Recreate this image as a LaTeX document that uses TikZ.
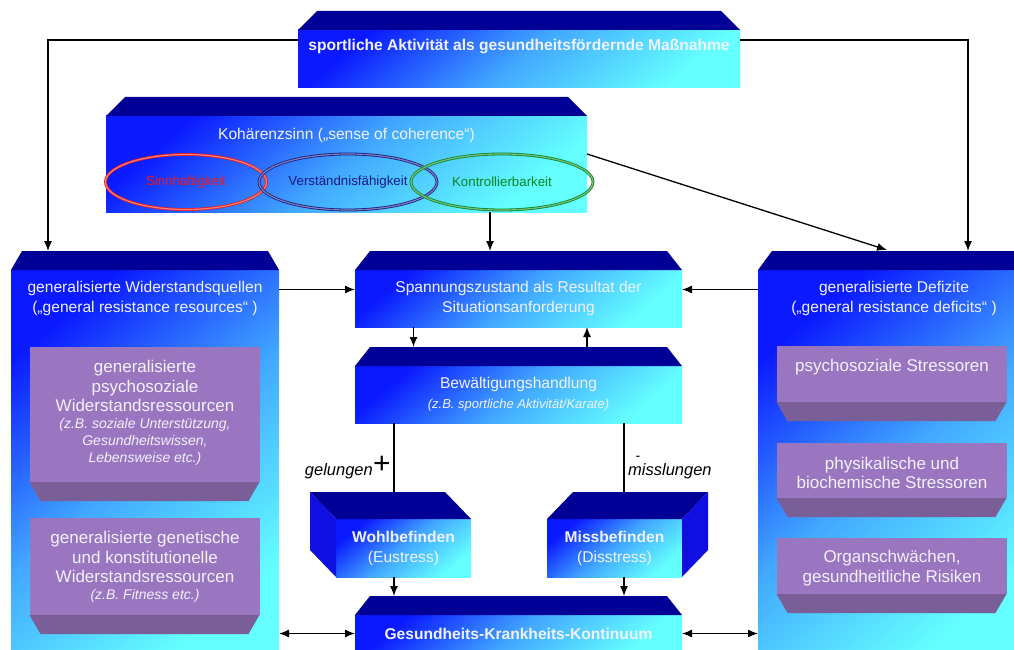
\documentclass[tikz,border=0pt]{standalone}
\usepackage{fontspec}
\setmainfont{Liberation Sans}
\usetikzlibrary{shapes.geometric, arrows.meta, calc, positioning}

\definecolor{boxblue}{RGB}{10,25,255}
\definecolor{boxcyan}{RGB}{100,255,255}
\definecolor{topnavy}{RGB}{0,0,150}
\definecolor{sideblue}{RGB}{15,15,225}
\definecolor{lilac}{RGB}{155,118,192}
\definecolor{lilacdark}{RGB}{122,94,152}
\definecolor{txtwhite}{RGB}{242,242,252}
\definecolor{ringred}{RGB}{235,25,25}
\definecolor{ringblue}{RGB}{25,25,130}
\definecolor{ringgreen}{RGB}{10,135,30}

\newcommand{\smallit}{\itshape\fontsize{14}{17.5}\selectfont}

\begin{document}
\begin{tikzpicture}[
    x=1pt, y=-1pt,
    >={Latex[length=10pt,width=8pt]},
    face/.style={inner sep=0pt, outer sep=0pt, left color=boxblue, right color=boxcyan, middle color=boxcyan!62!boxblue, shading angle=40, text=txtwhite, align=center},
    plate/.style={fill=lilac, inner sep=0pt, outer sep=0pt, minimum width=230pt},
    boxtext/.style={text=txtwhite, align=center, inner sep=0pt},
    ring/.style={ellipse, draw=#1, double=#1!55, double distance=1.2pt, line width=0.8pt, inner sep=0pt, text=#1, font=\fontsize{13.3}{16}\selectfont},
    conn/.style={line width=1.3pt},
    font=\fontsize{15.6}{20}\selectfont
]
\useasboundingbox (0,0) rectangle (1014,650);
\clip (0,0) rectangle (1014,650);

% blue boxes
\node[face, minimum width=442pt, minimum height=58pt] (sport) at (519,59) {};
\node[face, minimum width=481pt, minimum height=96pt] (koh) at (346.5,164) {};
\node[face, minimum width=268pt, minimum height=385pt] (wr) at (145,462.5) {};
\node[face, minimum width=272pt, minimum height=385pt] (def) at (894,462.5) {};
\node[face, minimum width=327pt, minimum height=57pt] (spann) at (518.5,298.5) {Spannungszustand als Resultat der\\Situationsanforderung};
\node[face, minimum width=327pt, minimum height=57pt] (bewael) at (518.5,394.5) {Bewältigungshandlung\\\itshape\fontsize{13}{17}\selectfont(z.B. sportliche Aktivität/Karate)};
\node[face, minimum width=327pt, minimum height=37pt, font=\bfseries\fontsize{15.6}{20}\selectfont] (gkk) at (518.5,633.5) {Gesundheits-Krankheits-Kontinuum};
\node[face, minimum width=135pt, minimum height=58pt] (wohl) at (403.5,548) {\textbf{Wohlbefinden}\\(Eustress)};
\node[face, minimum width=135pt, minimum height=58pt] (miss) at (614.5,548) {\textbf{Missbefinden}\\(Disstress)};

% bevels
\foreach \n/\d in {sport/19, koh/19, wr/11, def/14, spann/15, bewael/15, gkk/15} {
  \fill[topnavy] (\n.north west) -- ++(\d,-19) -- ($(\n.north east)+(-\d,-19)$) -- (\n.north east) -- cycle;
  \coordinate (\n-top) at ([yshift=19pt]\n.north);
}
\fill[topnavy] (wohl.north west) -- ++(-26,-27) -- ++(135,0) -- (wohl.north east) -- cycle;
\fill[sideblue] (wohl.north west) -- ++(-26,-27) -- ++(0,58) -- (wohl.south west) -- cycle;
\fill[topnavy] (miss.north west) -- ++(26,-27) -- ++(135,0) -- (miss.north east) -- cycle;
\fill[sideblue] (miss.north east) -- ++(26,-27) -- ++(0,58) -- (miss.south east) -- cycle;

% titles
\node[boxtext, font=\bfseries\fontsize{15.6}{20}\selectfont] (sporttxt) at (519,47) {sportliche Aktivität als gesundheitsfördernde Maßnahme};
\node[boxtext] (kohtxt) at (346.5,135) {Kohärenzsinn („sense of coherence“)};
\node[boxtext] (wrtxt) at (145,298) {generalisierte Widerstandsquellen\\(„general resistance resources“ )};
\node[boxtext] (deftxt) at (894,298) {generalisierte Defizite\\(„general resistance deficits“ )};

% coherence rings
\node[ring=ringred, minimum width=161pt, minimum height=55pt] (sinn) at (186,182) {Sinnhaftigkeit};
\node[ring=ringblue, minimum width=178pt, minimum height=56pt] (verst) at (348,182) {Verständnisfähigkeit};
\node[ring=ringgreen, minimum width=182pt, minimum height=56pt] (kontr) at (502,182) {Kontrollierbarkeit};

% lilac plates
\node[plate, minimum height=135pt] (p1) at (144.5,414.5) {};
\node[plate, minimum height=97pt] (p2) at (144.5,566.5) {};
\node[plate, minimum height=56pt] (q1) at (891.5,374) {};
\node[plate, minimum height=55pt] (q2) at (891.5,470.5) {};
\node[plate, minimum height=56pt] (q3) at (891.5,566) {};
\foreach \n/\d in {p1/11, p2/11, q1/11, q2/11, q3/11}
  \fill[lilacdark] (\n.south west) -- ++(\d,19) -- ($(\n.south east)+(-\d,19)$) -- (\n.south east) -- cycle;

\node[boxtext, font=\fontsize{17}{19.5}\selectfont] (p1txt) at (145,413) {generalisierte\\psychosoziale\\Widerstandsressourcen\\[-2.5pt]\smallit(z.B. soziale Unterstützung,\\[-2.5pt]\smallit Gesundheitswissen,\\[-2.5pt]\smallit Lebensweise etc.)};
\node[boxtext, font=\fontsize{17}{19.5}\selectfont] (p2txt) at (145,567) {generalisierte genetische\\und konstitutionelle\\Widerstandsressourcen\\[-2.5pt]\smallit(z.B. Fitness etc.)};
\node[boxtext, font=\fontsize{17}{19.5}\selectfont] (q1txt) at (892,367) {psychosoziale Stressoren};
\node[boxtext, font=\fontsize{17}{19.5}\selectfont] (q2txt) at (892,473) {physikalische und\\biochemische Stressoren};
\node[boxtext, font=\fontsize{17}{19.5}\selectfont] (q3txt) at (892,568) {Organschwächen,\\gesundheitliche Risiken};

% connectors
\coordinate (wrin) at (48,251);
\coordinate (defin) at (968,251);
\coordinate (defkoh) at (887,250);
\coordinate (spannin) at (490,251);
\coordinate (wohlin) at (394,492);
\coordinate (missin) at (624,492);
\coordinate (sl) at ([yshift=9pt]spann.west);
\coordinate (sr) at ([yshift=9pt]spann.east);

\draw[conn, ->] ([yshift=19pt]sport.west) -| (wrin);
\draw[conn, ->] ([yshift=19pt]sport.east) -| (defin);
\draw[conn, ->] ([yshift=10pt]koh.east) -- (defkoh);
\draw[conn, ->] (koh.south -| spannin) -- (spannin);
\draw[conn, ->] (wr.east |- sl) -- (sl);
\draw[conn, ->] (def.west |- sr) -- (sr);
\draw[conn, ->] ([xshift=-105pt]spann.south) -- ([xshift=-105pt]bewael-top);
\draw[conn, ->] ([xshift=68.5pt]bewael-top) -- ([xshift=68.5pt]spann.south);
\draw[conn] (bewael.south -| wohlin) -- (wohlin);
\draw[conn] (bewael.south -| missin) -- (missin);
\draw[conn, ->] (wohlin |- wohl.south) -- (wohlin |- gkk-top);
\draw[conn, ->] (missin |- miss.south) -- (missin |- gkk-top);
\draw[conn, <->] (wr.east |- gkk) -- (gkk.west);
\draw[conn, <->] (gkk.east) -- (def.west |- gkk);

% outcome labels
\node[font=\itshape\fontsize{16.5}{20}\selectfont, anchor=east, inner sep=0pt] (ok) at (373,471) {gelungen};
\node[font=\fontsize{30}{32}\selectfont, inner sep=0pt] (plus) at (382,465) {+};
\node[font=\itshape\fontsize{16.5}{20}\selectfont, anchor=west, inner sep=0pt] (fail) at (628,471) {misslungen};
\node[font=\fontsize{14}{16}\selectfont, inner sep=0pt] (minus) at (638,458) {-};

\end{tikzpicture}
\end{document}
